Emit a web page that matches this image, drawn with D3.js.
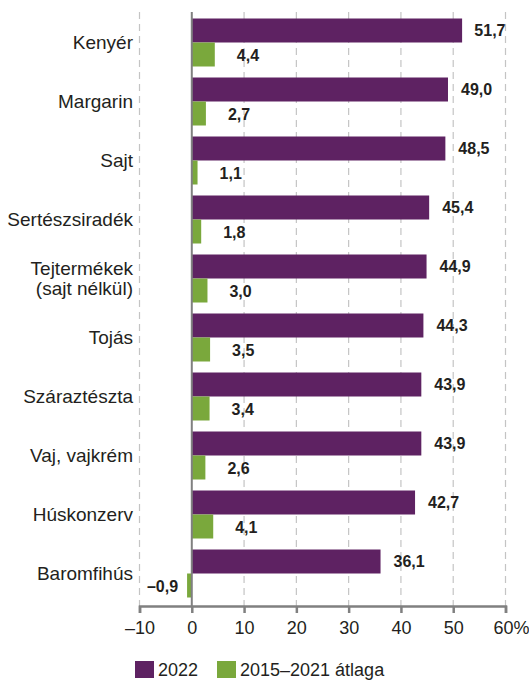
<!DOCTYPE html>
<html>
<head>
<meta charset="utf-8">
<script src="https://cdn.jsdelivr.net/npm/d3@7"></script>
<style>
  body { margin: 0; background: #fff; }
  text { font-family: "Liberation Sans", Arial, sans-serif; fill: #231f20; }
</style>
</head>
<body>
<div id="chart"></div>
<script>
// data
var categories = ["Kenyér", "Margarin", "Sajt", "Sertészsiradék", "Tejtermékek\n(sajt nélkül)",
  "Tojás", "Száraztészta", "Vaj, vajkrém", "Húskonzerv", "Baromfihús"];
var values2022 = [51.7, 49.0, 48.5, 45.4, 44.9, 44.3, 43.9, 43.9, 42.7, 36.1];
var valuesAvg = [4.4, 2.7, 1.1, 1.8, 3.0, 3.5, 3.4, 2.6, 4.1, -0.9];
var seriesNames = ["2022", "2015–2021 átlaga"];
var tickValues = [-10, 0, 10, 20, 30, 40, 50, 60];

var width = 529, height = 681;
var purple = "#5e2262", green = "#7aa83c";

var svg = d3.select("#chart").append("svg")
  .attr("width", width).attr("height", height);

var x = d3.scaleLinear().domain([-10, 60]).range([139.5, 505.5]);
var y = d3.scaleBand().domain(d3.range(categories.length)).range([13, 603]).paddingInner(11/59).paddingOuter(5.5/59);
var barH = y.bandwidth() / 2;

var fmt = function(v){
  return (v < 0 ? "–" : "") + d3.format(".1f")(Math.abs(v)).replace(".", ",");
};

// dashed grid lines
svg.append("g").selectAll("line")
  .data(tickValues.filter(function(d){ return d !== 0; }))
  .enter().append("line")
  .attr("x1", function(d){ return x(d); }).attr("x2", function(d){ return x(d); })
  .attr("y1", 12).attr("y2", 606)
  .attr("stroke", "#c4c4c4").attr("stroke-width", 1.2)
  .attr("stroke-dasharray", "7,5");

// bars
var rows = svg.append("g").selectAll("g")
  .data(categories.map(function(c, i){ return {c: c, a: values2022[i], b: valuesAvg[i], i: i}; }))
  .enter().append("g")
  .attr("transform", function(d){ return "translate(0," + y(d.i) + ")"; });

rows.append("rect")
  .attr("x", x(0)).attr("y", 0)
  .attr("width", function(d){ return x(d.a) - x(0); })
  .attr("height", barH)
  .attr("fill", purple);

rows.append("rect")
  .attr("x", function(d){ return x(Math.min(0, d.b)); }).attr("y", barH)
  .attr("width", function(d){ return Math.abs(x(d.b) - x(0)); })
  .attr("height", barH)
  .attr("fill", green);

// value labels
rows.append("text")
  .attr("y", barH / 2).attr("dy", "0.36em")
  .style("font-size", "16px").style("font-weight", "bold")
  .text(function(d){ return fmt(d.a); })
  .each(function(d){
    var t = d3.select(this), w = this.getComputedTextLength(), px = x(d.a) + 13;
    if (px + w > x(60)) px = x(60) - w;
    t.attr("x", px);
  });

rows.append("text")
  .attr("y", barH * 1.5 + 1).attr("dy", "0.36em")
  .style("font-size", "16px").style("font-weight", "bold")
  .attr("text-anchor", function(d){ return d.b < 0 ? "end" : "start"; })
  .attr("x", function(d){ return d.b < 0 ? x(d.b) - 9 : x(d.b) + 22; })
  .text(function(d){ return fmt(d.b); });

// category labels
rows.append("text")
  .attr("text-anchor", "end")
  .attr("x", 133)
  .style("font-size", "19px")
  .each(function(d){
    var lines = d.c.split("\n"), t = d3.select(this);
    var y0 = barH - (lines.length - 1) * 10;
    lines.forEach(function(l, k){
      t.append("tspan").attr("x", 133).attr("y", y0 + k * 20).attr("dy", "0.35em").text(l);
    });
  });

// zero line
svg.append("line")
  .attr("x1", x(0)).attr("x2", x(0)).attr("y1", 12).attr("y2", 606)
  .attr("stroke", "#808080").attr("stroke-width", 2);

// x axis
var axis = svg.append("g").attr("transform", "translate(0,606)")
  .call(d3.axisBottom(x).tickValues(tickValues).tickSize(7).tickPadding(8)
    .tickFormat(function(d){ return (d < 0 ? "–" + Math.abs(d) : d) + (d === 60 ? "%" : ""); }));
axis.select(".domain").attr("stroke", "#808080").attr("stroke-width", 2.5);
axis.selectAll(".tick line").attr("stroke", "#808080").attr("stroke-width", 2.5);
axis.selectAll(".tick text").style("font-size", "18px")
  .style("font-family", "'Liberation Sans', Arial, sans-serif").attr("fill", "#231f20");
axis.selectAll(".tick").filter(function(d){ return d === 60; }).select("text").attr("dx", "0.3em");

// legend
var legend = svg.append("g").attr("transform", "translate(0,661)");
var legX = [135, 217];
seriesNames.forEach(function(s, i){
  legend.append("rect").attr("x", legX[i]).attr("y", 0).attr("width", 19).attr("height", 17)
    .attr("fill", i === 0 ? purple : green);
  legend.append("text").attr("x", legX[i] + 23).attr("y", 8.5).attr("dy", "0.36em")
    .style("font-size", "18px").text(s);
});
</script>
</body>
</html>
